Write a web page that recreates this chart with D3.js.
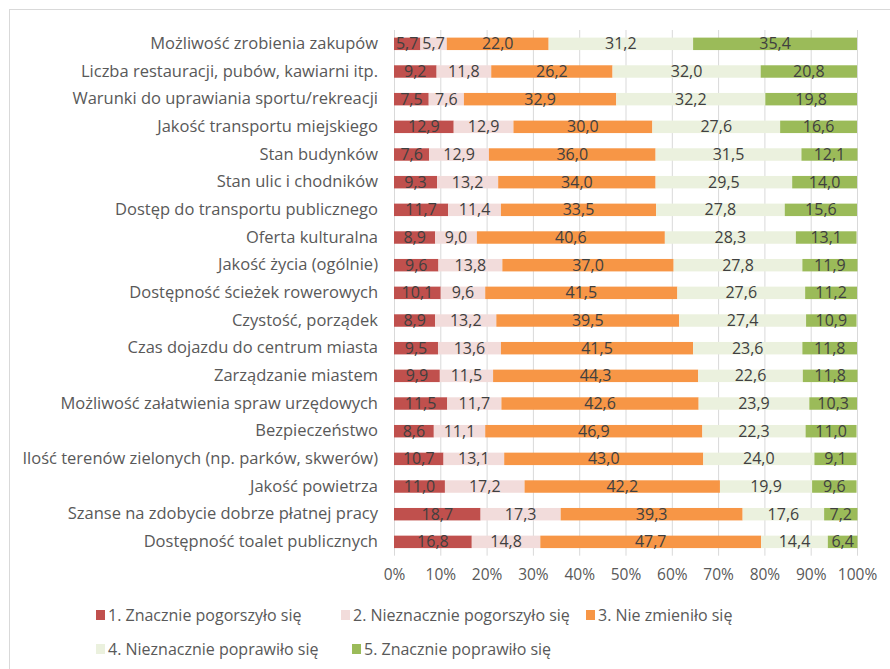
<!DOCTYPE html>
<html lang="pl">
<head>
<meta charset="utf-8">
<script src="https://cdn.jsdelivr.net/npm/d3@7"></script>
<style>
  html, body { margin: 0; padding: 0; background: #fff; }
  svg { display: block; }
  text { font-family: "Open Sans", "DejaVu Sans", sans-serif; }
</style>
</head>
<body>
<svg id="chart" width="890" height="669"></svg>
<script>
// Ocena zmian w mieście – odsetek odpowiedzi (%)
const categories = [
  "Możliwość zrobienia zakupów",
  "Liczba restauracji, pubów, kawiarni itp.",
  "Warunki do uprawiania sportu/rekreacji",
  "Jakość transportu miejskiego",
  "Stan budynków",
  "Stan ulic i chodników",
  "Dostęp do transportu publicznego",
  "Oferta kulturalna",
  "Jakość życia (ogólnie)",
  "Dostępność ścieżek rowerowych",
  "Czystość, porządek",
  "Czas dojazdu do centrum miasta",
  "Zarządzanie miastem",
  "Możliwość załatwienia spraw urzędowych",
  "Bezpieczeństwo",
  "Ilość terenów zielonych (np. parków, skwerów)",
  "Jakość powietrza",
  "Szanse na zdobycie dobrze płatnej pracy",
  "Dostępność toalet publicznych"
];

const seriesNames = [
  "1. Znacznie pogorszyło się",
  "2. Nieznacznie pogorszyło się",
  "3. Nie zmieniło się",
  "4. Nieznacznie poprawiło się",
  "5. Znacznie poprawiło się"
];

const znaczniePogorszylo    = [5.7, 9.2, 7.5, 12.9, 7.6, 9.3, 11.7, 8.9, 9.6, 10.1, 8.9, 9.5, 9.9, 11.5, 8.6, 10.7, 11.0, 18.7, 16.8];
const nieznaczniePogorszylo = [5.7, 11.8, 7.6, 12.9, 12.9, 13.2, 11.4, 9.0, 13.8, 9.6, 13.2, 13.6, 11.5, 11.7, 11.1, 13.1, 17.2, 17.3, 14.8];
const nieZmienilo           = [22.0, 26.2, 32.9, 30.0, 36.0, 34.0, 33.5, 40.6, 37.0, 41.5, 39.5, 41.5, 44.3, 42.6, 46.9, 43.0, 42.2, 39.3, 47.7];
const nieznaczniePoprawilo  = [31.2, 32.0, 32.2, 27.6, 31.5, 29.5, 27.8, 28.3, 27.8, 27.6, 27.4, 23.6, 22.6, 23.9, 22.3, 24.0, 19.9, 17.6, 14.4];
const znaczniePoprawilo     = [35.4, 20.8, 19.8, 16.6, 12.1, 14.0, 15.6, 13.1, 11.9, 11.2, 10.9, 11.8, 11.8, 10.3, 11.0, 9.1, 9.6, 7.2, 6.4];

const xTicks = [0, 10, 20, 30, 40, 50, 60, 70, 80, 90, 100];
const colors = ["#C0504D", "#F2DCDB", "#F79646", "#EBF1DE", "#9BBB59"];

const seriesValues = [znaczniePogorszylo, nieznaczniePogorszylo, nieZmienilo, nieznaczniePoprawilo, znaczniePoprawilo];
const keys = seriesNames;

const rows = categories.map((c, i) => {
  const r = { category: c };
  keys.forEach((k, j) => { r[k] = seriesValues[j][i]; });
  return r;
});

const svg = d3.select("#chart");

// chart frame
svg.append("rect")
  .attr("x", 9.5).attr("y", 9.5)
  .attr("width", 900).attr("height", 700)
  .attr("fill", "#fff").attr("stroke", "#d9d9d9").attr("stroke-width", 1);

const plot = { left: 394, right: 857, top: 30, bottom: 555.7 };

const x = d3.scaleLinear().domain([0, 100]).range([plot.left, plot.right]);
const y = d3.scaleBand().domain(categories).range([plot.top, plot.bottom]).paddingInner(0.55).paddingOuter(0.275);

// vertical gridlines
svg.append("g").selectAll("line").data(xTicks).join("line")
  .attr("x1", d => x(d) + 0.5).attr("x2", d => x(d) + 0.5)
  .attr("y1", plot.top).attr("y2", plot.bottom)
  .attr("stroke", "#d9d9d9").attr("stroke-width", 1);

// x axis labels
const xAxis = d3.axisBottom(x).tickValues(xTicks).tickFormat(d => d + "%").tickSize(0).tickPadding(0);
const gx = svg.append("g").attr("transform", `translate(0, ${plot.bottom + 13})`).call(xAxis);
gx.select(".domain").remove();
gx.selectAll("text").attr("font-size", 15.5).attr("fill", "#595959")
  .attr("font-family", "'Open Sans', sans-serif");

// category axis
const yAxis = d3.axisLeft(y).tickSize(0).tickPadding(16);
const gy = svg.append("g").attr("transform", `translate(${plot.left}, 0)`).call(yAxis);
gy.select(".domain").remove();
gy.selectAll("text").attr("font-size", 16.5).attr("fill", "#595959")
  .attr("font-family", "'Open Sans', sans-serif");

// stacked bars
const stacked = d3.stack().keys(keys)(rows);

const layers = svg.append("g").selectAll("g").data(stacked).join("g")
  .attr("fill", (d, i) => colors[i]);

layers.selectAll("rect").data(d => d).join("rect")
  .attr("x", d => x(d[0]))
  .attr("y", d => y(d.data.category))
  .attr("width", d => x(d[1]) - x(d[0]))
  .attr("height", y.bandwidth());

// value labels
const fmt = v => v.toFixed(1).replace(".", ",");
const labels = svg.append("g").selectAll("g").data(stacked).join("g");
labels.selectAll("text").data(d => d.map(p => ({ p, key: d.key }))).join("text")
  .attr("x", d => x((d.p[0] + d.p[1]) / 2))
  .attr("y", d => y(d.p.data.category) + y.bandwidth() / 2)
  .attr("dy", "0.35em")
  .attr("text-anchor", "middle")
  .attr("font-size", 16)
  .attr("fill", "#404040")
  .text(d => fmt(d.p.data[d.key]));

// legend
const legendItems = [
  { i: 0, x: 96, y: 615 },
  { i: 1, x: 341, y: 615 },
  { i: 2, x: 586, y: 615 },
  { i: 3, x: 96, y: 649 },
  { i: 4, x: 352, y: 649 }
];
const lg = svg.append("g").selectAll("g").data(legendItems).join("g")
  .attr("transform", d => `translate(${d.x}, ${d.y})`);
lg.append("rect").attr("x", 0).attr("y", -5).attr("width", 9).attr("height", 10)
  .attr("fill", d => colors[d.i]);
lg.append("text").attr("x", 12).attr("dy", "0.35em")
  .attr("font-size", 16).attr("fill", "#595959")
  .attr("font-family", "'Open Sans', sans-serif")
  .text(d => seriesNames[d.i]);
</script>
</body>
</html>
